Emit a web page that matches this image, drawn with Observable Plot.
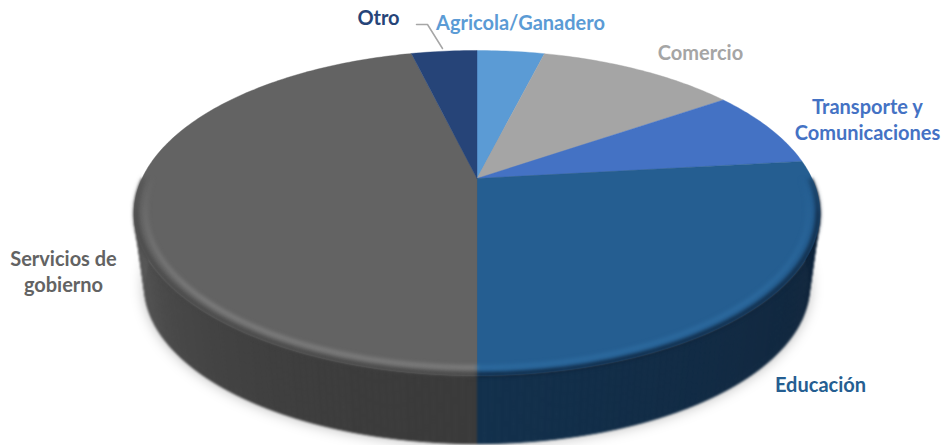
<!DOCTYPE html>
<html><head><meta charset="utf-8">
<script src="https://cdn.jsdelivr.net/npm/d3@7"></script>
<script src="https://cdn.jsdelivr.net/npm/@observablehq/plot@0.6"></script>
<style>html,body{margin:0;padding:0;background:#fff}svg{display:block}</style>
</head><body><div id="chart"></div>
<script>
// Data
const categories = ["Agricola/Ganadero","Comercio","Transporte y\nComunicaciones","Educación","Servicios de\ngobierno","Otro"];
const shares = [3.9,11.5,7.8,26.8,46.2,3.8];
// Style and layout (separate from the data)
const topColors  = ["#5b9bd5","#a5a5a5","#4472c4","#255e91","#636363","#264478"];
const sideNear   = ["#33597d","#636363","#294476","#12304c","#3a3a3a","#17294a"];
const sideFar    = ["#33597d","#636363","#294476","#0e2238","#585858","#17294a"];
const glowColors = ["#7ab0e0","#bbb","#6a90d8","#2f6ea3","#868686","#3a5a94"];
const edgeColors = ["#33597d","#636363","#294476","#0c1f35","#444444","#17294a"];
const labelX = [520,700,867,820,63,378];
const labelY = [21,51,118,383,270,16];
const leaderX = [416,427,442];
const leaderY = [24,24,48];

// Perspective view of the disc: unit circle -> screen
const cx = 476.5, apexY = 178, A = 335, B = -117.4, K = 0.2123;
const discMidY = 212, baseScale = 0.97, baseMidY = 285;
const project = (r, t) => {
  const u = r*Math.sin(t), v = r*Math.cos(t), w = 1 + K*v;
  return [cx + A*u/w, (apexY + B*v)/w];
};
const lower = ([x,y]) => [cx + (x-cx)*baseScale, baseMidY + (y-discMidY)*baseScale];
const rad = d => d*Math.PI/180;

const total = d3.sum(shares);
let acc = 0;
const slices = categories.map((name,i) => {
  const a0 = acc/total*360; acc += shares[i]; const a1 = acc/total*360;
  return {name,i,a0,a1};
});

const topPts = [], sidePts = [], glow = [], edge = [], basePts = [];
for (const s of slices) {
  topPts.push({id:s.i,x:cx,y:apexY,color:topColors[s.i]});
  for (let a=s.a0;;a+=1){ const d=Math.min(a,s.a1); const [x,y]=project(1,rad(d)); topPts.push({id:s.i,x,y,color:topColors[s.i]}); if(d===s.a1)break; }
  topPts.push({id:s.i,x:cx,y:apexY,color:topColors[s.i]});
  const from = Math.max(s.a0,90), to = Math.min(s.a1,270), step = 1;
  let n = 0;
  for (let a=from;a<to;a+=step){
    const b=Math.min(a+step,to), m=(a+b)/2;
    const p0=project(1,rad(a)),p1=project(1,rad(b));
    const q0=lower(p0),q1=lower(p1);
    const f=Math.min(1,Math.abs(m-180)/80);
    const color=d3.interpolateRgb(sideNear[s.i],sideFar[s.i])(s.i===3?f:f*f);
    const id=s.i+"-"+(n++);
    for(const [x,y] of [p0,p1,q1,q0]) sidePts.push({id,x,y,color});
    const fade=Math.max(0,Math.min(1,(-Math.cos(rad(m))+0.05)/0.75));
    const g0=project(0.968,rad(a)),g1=project(0.968,rad(b));
    glow.push({x1:g0[0],y1:g0[1],x2:g1[0],y2:g1[1],color:glowColors[s.i],op:fade});
    const e0=project(0.995,rad(a)),e1=project(0.995,rad(b));
    edge.push({x1:e0[0],y1:e0[1],x2:e1[0],y2:e1[1],color:edgeColors[s.i],op:Math.min(1,0.35+fade*1.6)});
  }
}
for (let a=0;a<360;a+=2){ const [x,y]=lower(project(1,rad(a))); basePts.push({x,y}); }

const labels = slices.map(s => ({name:s.name,x:labelX[s.i],y:labelY[s.i],color:topColors[s.i]}));
const leader = leaderX.map((x,i)=>({x,y:leaderY[i]}));

const chart = Plot.plot({
  width:943,height:445,margin:0,
  x:{domain:[0,943],range:[0,943],axis:null},
  y:{domain:[0,445],range:[0,445],axis:null},
  color:{type:"identity"},
  marks:[
    Plot.line(basePts,{x:"x",y:"y",fill:"#000",stroke:"none",fillOpacity:0.3,imageFilter:"blur(7px)"}),
    Plot.line(sidePts,{x:"x",y:"y",z:"id",fill:"color",stroke:"color",strokeWidth:1,strokeLinejoin:"round",imageFilter:"blur(0.8px)"}),
    Plot.line(topPts,{x:"x",y:"y",z:"id",fill:"color",stroke:"color",strokeWidth:0.4}),
    Plot.link(edge,{x1:"x1",y1:"y1",x2:"x2",y2:"y2",stroke:"color",strokeOpacity:"op",strokeWidth:4,imageFilter:"blur(2px)"}),
    Plot.link(glow,{x1:"x1",y1:"y1",x2:"x2",y2:"y2",stroke:"color",strokeOpacity:"op",strokeWidth:3.5,imageFilter:"blur(2.2px)"}),
    Plot.line(leader,{x:"x",y:"y",stroke:"#a6a6a6",strokeWidth:1.5}),
    Plot.text(labels,{x:"x",y:"y",text:"name",fill:"color",fontSize:20,fontWeight:700,fontFamily:"Lato",lineHeight:1.32,textAnchor:"middle"})
  ]
});
document.getElementById("chart").append(chart);
</script></body></html>
